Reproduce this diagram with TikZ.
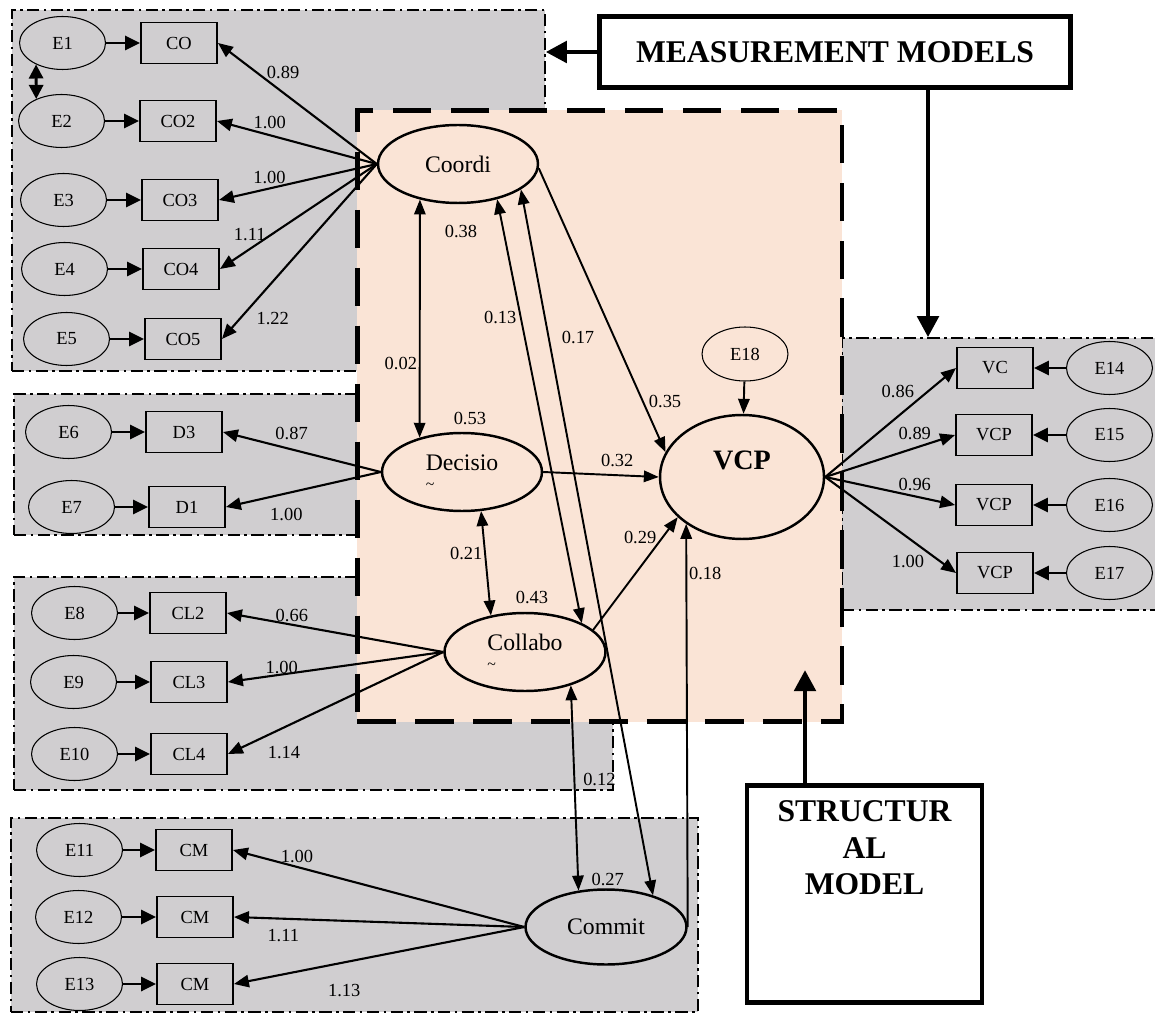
\documentclass[tikz,border=0pt]{standalone}
\usepackage{fontspec}
\setmainfont{Liberation Serif}
\usepackage{xcolor}
\usepackage{tikz}
\usetikzlibrary{shapes.geometric, arrows.meta, positioning, calc}
\definecolor{groupgray}{RGB}{208,206,208}
\definecolor{structpink}{RGB}{250,228,214}
\tikzstyle{group} = [rectangle, draw=black, fill=groupgray, line width=0.9pt, dash pattern=on 7pt off 2.5pt on 1.5pt off 2.5pt, inner sep=0pt]
\tikzstyle{structpart} = [rectangle, draw=black, fill=structpink, line width=2.8pt, dash pattern=on 22pt off 11pt, inner sep=0pt]
\tikzstyle{errvar} = [ellipse, draw=black, line width=0.6pt, minimum width=1.72cm, minimum height=1.06cm, inner sep=0pt, font=\fontsize{10.5}{12}\selectfont]
\tikzstyle{indicator} = [rectangle, draw=black, line width=1.1pt, minimum width=1.52cm, minimum height=0.82cm, inner sep=0pt, font=\fontsize{10.5}{12}\selectfont]
\tikzstyle{latent} = [ellipse, draw=black, line width=1.4pt, minimum width=3.2cm, minimum height=1.56cm, inner sep=0pt, font=\fontsize{13.5}{16}\selectfont]
\tikzstyle{titlebox} = [rectangle, draw=black, fill=white, line width=2.8pt, font=\bfseries\fontsize{18}{21}\selectfont, align=center]
\tikzstyle{coef} = [inner sep=1pt, font=\fontsize{10.5}{12}\selectfont]
\tikzstyle{errarrow} = [line width=1.6pt, -{Triangle[length=8.5pt,width=8pt]}]
\tikzstyle{loading} = [line width=1.2pt, -{Triangle[length=8.5pt,width=7pt]}]
\tikzstyle{effect} = [line width=1.1pt, -{Triangle[length=8.5pt,width=6.5pt]}]
\tikzstyle{covar} = [line width=1.1pt, {Triangle[length=8.5pt,width=6.5pt]}-{Triangle[length=8.5pt,width=6.5pt]}]
\tikzstyle{bigarrow} = [line width=2.8pt, -{Triangle[length=12pt,width=12pt]}]

\begin{document}
\begin{tikzpicture}[x=0.02cm, y=-0.02cm]
\useasboundingbox (0,0) rectangle (1155,1016);
\fill[white] (0,0) rectangle (1155,1016);
\clip (0,0) rectangle (1155,1016);

% Grey measurement panels and the structural part
\node (grpcoordi) [group, minimum width=10.66cm, minimum height=7.22cm] at (278.5,190.5) {};
\node (grpdecision) [group, minimum width=7.72cm, minimum height=2.82cm] at (207,464.5) {};
\node (grpcollabo) [group, minimum width=11.98cm, minimum height=4.26cm] at (313.5,683.5) {};
\node (grpcommit) [group, minimum width=13.74cm, minimum height=3.88cm] at (354.5,915) {};
\node (grpvcp) [group, minimum width=6.56cm, minimum height=5.44cm] at (1006,474) {};
\node (structmodel) [structpart, minimum width=9.7cm, minimum height=12.24cm] at (599.5,416) {};

% Latent variables
\node (coordi) [latent, label={[coef, label distance=10.8pt, xshift=1.7pt]below:0.38}] at (458,164) {Coordi};
\node (decision) [latent, align=left, label={[coef, label distance=3pt, xshift=4.5pt]above:0.53}] at (462,472) {Decisio\\[-5pt]{\small\textasciitilde}};
\node (collabo) [latent, minimum width=3.22cm, align=left, label={[coef, label distance=3.4pt, xshift=4pt]above:0.43}] at (525,652) {Collabo\\[-5pt]{\small\textasciitilde}};
\node (commit) [latent, minimum width=3.22cm, minimum height=1.5cm, label={[coef, label distance=0pt, xshift=1pt]above:0.27}] at (606,927) {Commit};
\node (vcp) [latent, minimum width=3.28cm, minimum height=2.48cm, font=\bfseries\fontsize{16}{18}\selectfont, text depth=19pt] at (742,477) {VCP};
\node (e18) [errvar, minimum height=1.08cm] at (745,354) {E18};

% Coordination indicators
\node (co1) [indicator] at (179,43) {CO};
\node (co2) [indicator] at (178,121) {CO2};
\node (co3) [indicator] at (180,200) {CO3};
\node (co4) [indicator] at (181,269) {CO4};
\node (co5) [indicator] at (183,339) {CO5};
\node (e1) [errvar, left=0.68cm of co1] {E1};
\node (e2) [errvar, left=0.68cm of co2] {E2};
\node (e3) [errvar, left=0.68cm of co3] {E3};
\node (e4) [errvar, left=0.68cm of co4] {E4};
\node (e5) [errvar, left=0.68cm of co5] {E5};

% Decision indicators
\node (d3) [indicator] at (184,432) {D3};
\node (d1) [indicator] at (187,507) {D1};
\node (e6) [errvar, left=0.66cm of d3] {E6};
\node (e7) [errvar, left=0.66cm of d1] {E7};

% Collaboration indicators
\node (cl2) [indicator] at (188,613) {CL2};
\node (cl3) [indicator] at (189,682) {CL3};
\node (cl4) [indicator] at (189,754) {CL4};
\node (e8) [errvar, left=0.62cm of cl2] {E8};
\node (e9) [errvar, left=0.66cm of cl3] {E9};
\node (e10) [errvar, left=0.64cm of cl4] {E10};

% Commitment indicators
\node (cm1) [indicator] at (194,850) {CM};
\node (cm2) [indicator] at (195,917) {CM};
\node (cm3) [indicator] at (195,984) {CM};
\node (e11) [errvar, left=0.64cm of cm1] {E11};
\node (e12) [errvar, left=0.68cm of cm2] {E12};
\node (e13) [errvar, left=0.66cm of cm3] {E13};

% VCP indicators
\node (vc1) [indicator] at (995,368) {VC};
\node (vcp2) [indicator] at (994,435) {VCP};
\node (vcp3) [indicator] at (994,505) {VCP};
\node (vcp4) [indicator] at (995,573) {VCP};
\node (e14) [errvar, right=0.64cm of vc1] {E14};
\node (e15) [errvar, right=0.66cm of vcp2] {E15};
\node (e16) [errvar, right=0.66cm of vcp3] {E16};
\node (e17) [errvar, right=0.64cm of vcp4] {E17};

% Title boxes
\node (mmbox) [titlebox, minimum width=9.42cm, minimum height=1.42cm] at (835,52) {MEASUREMENT MODELS};
\node (smbox) [titlebox, minimum width=4.7cm, minimum height=4.34cm, anchor=north] at (864.5,783) {};
\node [font=\bfseries\fontsize{18}{21}\selectfont, align=center, below=0.22cm of smbox.north] {STRUCTUR\\AL\\MODEL};
\coordinate (mmdrop) at (928,0);
\coordinate (smtip) at (805,670);

% Error arrows
\draw [errarrow] (e1) -- (co1);
\draw [errarrow] (e2) -- (co2);
\draw [errarrow] (e3) -- (co3);
\draw [errarrow] (e4) -- (co4);
\draw [errarrow] (e5) -- (co5);
\draw [errarrow] (e6) -- (d3);
\draw [errarrow] (e7) -- (d1);
\draw [errarrow] (e8) -- (cl2);
\draw [errarrow] (e9) -- (cl3);
\draw [errarrow] (e10) -- (cl4);
\draw [errarrow] (e11) -- (cm1);
\draw [errarrow] (e12) -- (cm2);
\draw [errarrow] (e13) -- (cm3);
\draw [errarrow] (e14) -- (vc1);
\draw [errarrow] (e15) -- (vcp2);
\draw [errarrow] (e16) -- (vcp3);
\draw [errarrow] (e17) -- (vcp4);
\draw [line width=1.6pt, {Triangle[length=8pt,width=8pt]}-{Triangle[length=8pt,width=8pt]}] (e1.219) -- (e2.139);
\draw [effect] (e18) -- (vcp);

% Loadings
\draw [loading] (coordi.west) -- (co1.east) node[coef, pos=.59, above=6pt] {0.89};
\draw [loading] (coordi.west) -- (co2.east) node[coef, pos=.67, above=2pt] {1.00};
\draw [loading] (coordi.west) -- (co3.east) node[coef, pos=.68, above=1pt] {1.00};
\draw [loading] (coordi.west) -- (co4.east) node[coef, pos=.81, above=3pt] {1.11};
\draw [loading] (coordi.west) -- (co5.east) node[coef, pos=.885, right=8pt] {1.22};
\draw [loading] (decision.west) -- (d3.east) node[coef, pos=.565, above=4pt] {0.87};
\draw [loading] (decision.west) -- (d1.east) node[coef, pos=.61, below=7pt] {1.00};
\draw [loading] (collabo.west) -- (cl2.east) node[coef, pos=.7, above=0pt] {0.66};
\draw [loading] (collabo.west) -- (cl3.east) node[coef, pos=.75, above=-1pt] {1.00};
\draw [loading] (collabo.west) -- (cl4.east) node[coef, pos=.74, below=9pt] {1.14};
\draw [loading] (commit.west) -- (cm1.east) node[coef, pos=.78, above=0.5pt] {1.00};
\draw [loading] (commit.west) -- (cm2.east) node[coef, pos=.83, below=4.5pt] {1.11};
\draw [loading] (commit.west) -- (cm3.east) node[coef, pos=.62, below=11pt] {1.13};
\draw [loading] (vcp.east) -- (vc1.west) node[coef, pos=.7, above left=0pt] {0.86};
\draw [loading] (vcp.east) -- (vcp2.west) node[coef, pos=.69, above=3pt] {0.89};
\draw [loading] (vcp.east) -- (vcp3.west) node[coef, pos=.69, above=1.5pt] {0.96};
\draw [loading] (vcp.east) -- (vcp4.west) node[coef, pos=.885, left=8pt] {1.00};

% Structural paths
\draw [covar] (coordi.223) -- (decision.141) node[coef, pos=.69, left=0pt] {0.02};
\draw [covar] (coordi.318) -- (collabo.27) node[coef, pos=.28, left=1pt] {0.13};
\draw [covar] (coordi.338) -- (commit.34) node[coef, pos=.21, right=6pt] {0.17};
\draw [effect] (coordi.357) -- (vcp.162) node[coef, pos=.82, right=2pt] {0.35};
\draw [effect] (decision.east) -- (vcp.west) node[coef, pos=.64, above=3pt] {0.32};
\draw [covar] (decision.296) -- (collabo.133) node[coef, pos=.41, left=0pt] {0.21};
\draw [effect] (collabo.18) -- (vcp.212) node[coef, pos=.82, left=2pt] {0.29};
\draw [effect] (commit.east) -- (vcp.220) node[coef, pos=.876, right=0pt] {0.18};
\draw [covar] (collabo.324) -- (commit.127) node[coef, pos=.46, right=3.5pt] {0.12};

% Pointers from the titles
\draw [bigarrow] (mmbox.west) -- (grpcoordi.east |- mmbox.west);
\draw [bigarrow] (mmbox.south -| mmdrop) -- (mmdrop |- grpvcp.north);
\draw [bigarrow] (smbox.north -| smtip) -- (smtip);

\end{tikzpicture}
\end{document}
